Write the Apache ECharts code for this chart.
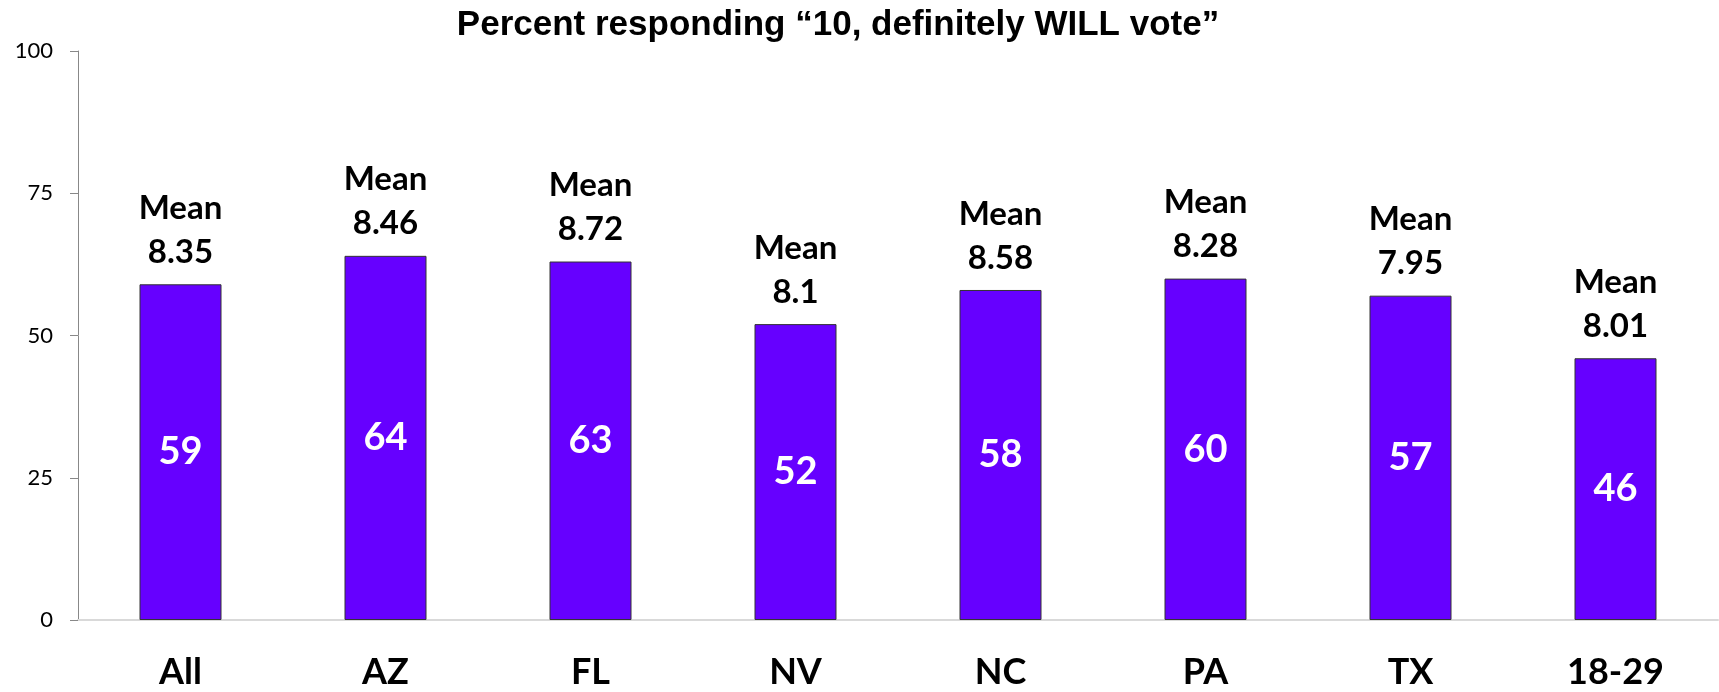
<!DOCTYPE html>
<html>
<head>
<meta charset="utf-8">
<script src="https://cdn.jsdelivr.net/npm/echarts@6/dist/echarts.min.js"></script>
<style>
html,body{margin:0;padding:0;background:#fff;}
#chart{width:1719px;height:692px;}
</style>
</head>
<body>
<div id="chart"></div>
<script>
const titleText = 'Percent responding \u201c10, definitely WILL vote\u201d';
const categories = ['All', 'AZ', 'FL', 'NV', 'NC', 'PA', 'TX', '18-29'];
const percentValues = [59, 64, 63, 52, 58, 60, 57, 46];
const meanValues = ['8.35', '8.46', '8.72', '8.1', '8.58', '8.28', '7.95', '8.01'];
const yTicks = [0, 25, 50, 75, 100];

const chart = echarts.init(document.getElementById('chart'));
chart.setOption({
  animation: false,
  backgroundColor: '#ffffff',
  title: {
    text: titleText,
    left: 833,
    textAlign: 'center',
    top: 3,
    textStyle: { fontFamily: 'Liberation Sans', fontWeight: 'bold', fontSize: 35, color: '#000' }
  },
  grid: { left: 78, right: 1, top: 51, bottom: 72, containLabel: false },
  xAxis: {
    type: 'category',
    data: categories,
    axisLine: { show: true, lineStyle: { color: '#d9d9d9', width: 2 } },
    axisTick: { show: false },
    axisLabel: { margin: 34, fontFamily: 'Lato', fontWeight: 'bold', fontSize: 36, color: '#000' }
  },
  yAxis: {
    type: 'value',
    min: yTicks[0],
    max: yTicks[yTicks.length - 1],
    interval: yTicks[1] - yTicks[0],
    splitLine: { show: false },
    axisLine: { show: true, lineStyle: { color: '#888888', width: 1 } },
    axisTick: { show: true, length: 8, lineStyle: { color: '#888888' } },
    axisLabel: { margin: 25, fontFamily: 'Lato', fontSize: 22, color: '#000' }
  },
  series: [
    {
      type: 'bar',
      data: percentValues,
      barWidth: '40%',
      itemStyle: { color: '#6600ff', borderColor: '#333333', borderWidth: 1 },
      label: {
        show: true,
        position: 'inside',
        fontFamily: 'Lato', fontWeight: 'bold', fontSize: 38, color: '#ffffff'
      },
      z: 2
    },
    {
      type: 'bar',
      data: percentValues,
      barWidth: '40%',
      barGap: '-100%',
      itemStyle: { color: 'rgba(0,0,0,0)' },
      silent: true,
      label: {
        show: true,
        position: 'top',
        distance: 10,
        formatter: function (p) { return 'Mean\n' + meanValues[p.dataIndex]; },
        fontFamily: 'Lato', fontWeight: 'bold', fontSize: 33, lineHeight: 44, color: '#000'
      },
      z: 3
    }
  ]
});
</script>
</body>
</html>
